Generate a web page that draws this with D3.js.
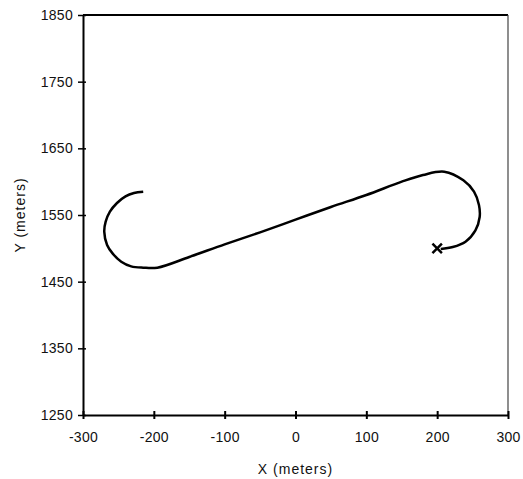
<!DOCTYPE html>
<html><head><meta charset="utf-8">
<script src="https://cdn.jsdelivr.net/npm/d3@7"></script>
<style>body{margin:0;background:#fff}svg{display:block}</style>
</head><body>
<svg id="c" width="523" height="479"></svg>
<script>
const xTicks = [-300,-200,-100,0,100,200,300];
const yTicks = [1250,1350,1450,1550,1650,1750,1850];
const pathX = [-215,-228,-240,-252,-262,-268,-270,-266,-258,-246,-232,-215,-195,-150,-100,-50,0,50,100,150,180,210,237,252,259,260,254,240,222,205];
const pathY = [1585,1583,1578,1568,1555,1540,1525,1505,1492,1480,1473,1471,1471,1487,1506,1524,1543,1562,1580,1600,1610,1615,1602,1585,1565,1547,1527,1510,1502,1499];
const markerX = [200];
const markerY = [1500];

const svg = d3.select("#c");
const L=83, R=508, T=15, B=415;
const x = d3.scaleLinear().domain([-300,300]).range([L,R]);
const y = d3.scaleLinear().domain([1250,1850]).range([B,T]);
const font = "Liberation Sans, Arial, sans-serif";
const fmt = d => String(d);

svg.append("line").attr("x1",L).attr("x2",R).attr("y1",T).attr("y2",T).attr("stroke","#000").attr("stroke-width",2);
svg.append("line").attr("x1",R).attr("x2",R).attr("y1",T).attr("y2",B).attr("stroke","#444").attr("stroke-width",1.2);

const xa = svg.append("g").attr("transform",`translate(0,${B})`)
  .call(d3.axisBottom(x).tickValues(xTicks).tickFormat(fmt).tickSize(4).tickSizeOuter(0).tickPadding(13));
xa.select(".domain").attr("stroke-width",2);
xa.selectAll(".tick line").attr("y1",-4).attr("stroke-width",2);
xa.selectAll("text").attr("font-family",font).attr("font-size",14).attr("letter-spacing",0.3).attr("fill","#111");

const ya = svg.append("g").attr("transform",`translate(${L},0)`)
  .call(d3.axisLeft(y).tickValues(yTicks).tickFormat(fmt).tickSize(5).tickSizeOuter(0).tickPadding(5));
ya.select(".domain").attr("stroke-width",2);
ya.selectAll(".tick line").attr("x1",3).attr("stroke-width",1.5);
ya.selectAll("text").attr("font-family",font).attr("font-size",14).attr("letter-spacing",0.3).attr("fill","#111");

svg.append("text").attr("x",(L+R)/2).attr("y",474).attr("text-anchor","middle")
  .attr("font-family",font).attr("font-size",14).attr("letter-spacing",1).attr("fill","#111").text("X (meters)");
svg.append("text").attr("transform",`translate(25,${(T+B)/2}) rotate(-90)`).attr("text-anchor","middle")
  .attr("font-family",font).attr("font-size",14).attr("letter-spacing",1).attr("fill","#111").text("Y (meters)");

const pts = pathX.map((v,i)=>[v,pathY[i]]);
svg.append("path").datum(pts)
  .attr("d", d3.line().x(d=>x(d[0])).y(d=>y(d[1])).curve(d3.curveCatmullRom))
  .attr("fill","none").attr("stroke","#000").attr("stroke-width",2.5);

svg.selectAll(".mk").data(markerX.map((v,i)=>[v,markerY[i]])).join("path")
  .attr("transform",d=>`translate(${x(d[0])},${y(d[1])})`)
  .attr("d", d3.symbol().type(d3.symbolX).size(60))
  .attr("fill","none").attr("stroke","#000").attr("stroke-width",2.5);
</script>
</body></html>
